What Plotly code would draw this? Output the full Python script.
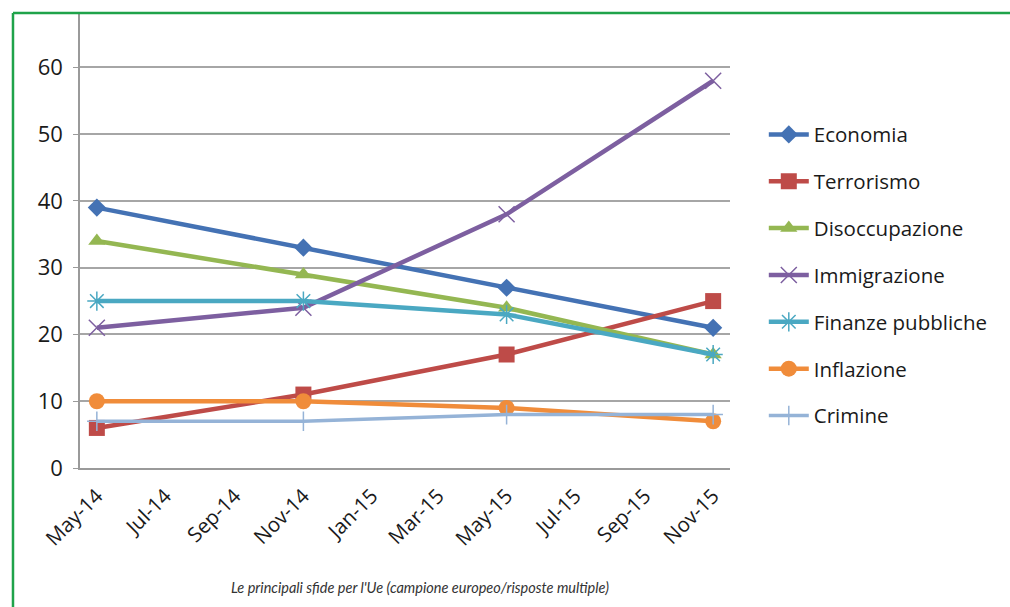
import plotly.graph_objects as go

dates = ["2014-05-01", "2014-11-01", "2015-05-01", "2015-11-01"]
series_names = ["Economia", "Terrorismo", "Disoccupazione", "Immigrazione",
                "Finanze pubbliche", "Inflazione", "Crimine"]
economia = [39, 33, 27, 21]
terrorismo = [6, 11, 17, 25]
disoccupazione = [34, 29, 24, 17]
immigrazione = [21, 24, 38, 58]
finanze = [25, 25, 23, 17]
inflazione = [10, 10, 9, 7]
crimine = [7, 7, 8, 8]
values = [economia, terrorismo, disoccupazione, immigrazione, finanze, inflazione, crimine]
subtitle = "Le principali sfide per l'Ue (campione europeo/risposte multiple)"

colors = ["#4472B4", "#BE4B48", "#94B752", "#7D5FA0", "#4AA8C2", "#F08C3A", "#95B3D7"]
symbols = ["diamond", "square", "triangle-up", "x-thin-open", "asterisk-open", "circle", "cross-thin-open"]
sizes = [14, 16, 15, 16, 16, 16, 14]
widths = [4.5, 4.5, 4.5, 4.5, 4.5, 4.5, 3.5]

fig = go.Figure()
for i, (name, vals) in enumerate(zip(series_names, values)):
    open_sym = symbols[i].endswith("open")
    fig.add_trace(go.Scatter(
        x=dates, y=vals, name=name, mode="lines+markers",
        legendgroup=name,
        line=dict(color=colors[i], width=widths[i]),
        marker=dict(symbol=symbols[i], size=sizes[i], color=colors[i],
                    line=dict(color=colors[i], width=1.5 if open_sym else 0)),
    ))

fig.update_layout(
    width=1010, height=607,
    margin=dict(l=80, r=280, t=14, b=139),
    plot_bgcolor="white", paper_bgcolor="white",
    font=dict(family="Open Sans, Noto Sans, sans-serif", size=18, color="#1A1A1A"),
    showlegend=True,
    legend=dict(x=1.052, y=0.425, xanchor="left", yanchor="middle",
                font=dict(size=20.5, color="#1A1A1A"),
                tracegroupgap=17.2, itemwidth=40, bgcolor="rgba(0,0,0,0)"),
    annotations=[dict(text=subtitle, xref="paper", yref="paper", x=0.523, y=-0.264,
                      xanchor="center", yanchor="middle", showarrow=False,
                      font=dict(family="Lato, Open Sans, sans-serif", size=14.5,
                                style="italic", color="#333333"))],
    shapes=[
        dict(type="line", xref="paper", yref="paper", x0=-0.1031, x1=1.5, y0=1.0022, y1=1.0022,
             line=dict(color="#1FA34A", width=2.5)),
        dict(type="line", xref="paper", yref="paper", x0=-0.1031, x1=-0.1031, y0=1.0022, y1=-0.35,
             line=dict(color="#1FA34A", width=2.5)),
    ],
)
fig.update_xaxes(
    type="date", range=["2014-04-16", "2015-11-16"],
    tick0="2014-05-01", dtick="M2", tickformat="%b-%y",
    tickangle=-45, showgrid=False, showline=True, linecolor="#9A9A9A", linewidth=1.5,
    ticks="", tickfont=dict(size=20.5), zeroline=False, ticklabelstandoff=6,
)
fig.update_yaxes(
    range=[0, 68], dtick=10, showgrid=True, gridcolor="#A6A6A6", gridwidth=1.5,
    showline=True, linecolor="#9A9A9A", linewidth=1.5, zeroline=False,
    ticks="outside", ticklen=5, tickcolor="#9A9A9A", tickfont=dict(size=22),
    ticklabelstandoff=6,
)

fig.write_html("out.html")
